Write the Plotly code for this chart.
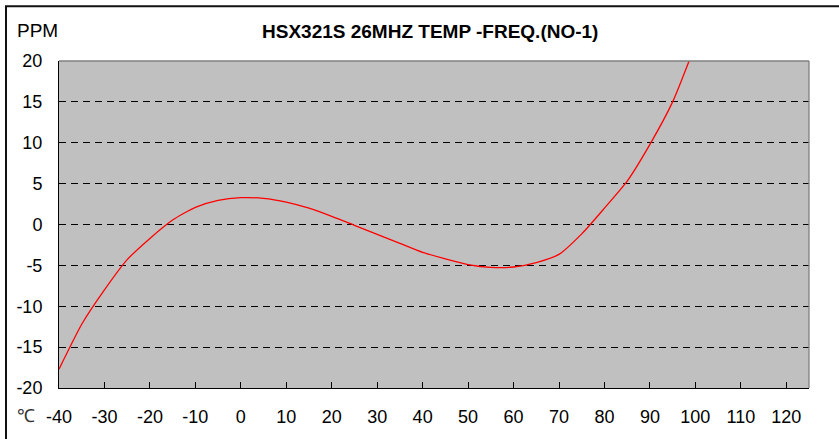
import plotly.graph_objects as go

temps = [-40, -35, -30, -25, -20, -15, -10, -5, 0, 5, 10, 15, 20, 25, 30, 35,
         40, 45, 50, 55, 60, 65, 70, 75, 80, 85, 90, 95, 100]
ppm = [-17.7, -12.2, -8.0, -4.3, -1.7, 0.55, 2.1, 2.95, 3.28, 3.2, 2.75, 2.0, 1.0,
       -0.1, -1.2, -2.3, -3.4, -4.2, -4.9, -5.25, -5.2, -4.65, -3.65, -1.15, 2.0,
       5.3, 9.8, 15.0, 22.0]
x_ticks = list(range(-40, 121, 10))
x_tick_labels = [str(v) for v in x_ticks]
y_ticks = list(range(-20, 21, 5))
y_tick_labels = [str(v) for v in y_ticks]
title_text = "HSX321S 26MHZ TEMP -FREQ.(NO-1)"
y_unit = "PPM"
x_unit = "℃"

W, H = 839, 439
L, R, T, B = 59, 30, 61, 49
pw, ph = W - L - R, H - T - B


def px(x):
    return (x - L) / pw


def py(y):
    return (H - B - y) / ph


fig = go.Figure()
fig.add_trace(go.Scatter(x=temps, y=ppm, mode="lines",
                         line=dict(color="#FF0000", width=1.3, shape="spline", smoothing=0.6),
                         hoverinfo="skip", cliponaxis=True))

font = "Liberation Sans, Arial, sans-serif"
fig.update_layout(
    width=W, height=H,
    margin=dict(l=L, r=R, t=T, b=B, pad=0),
    paper_bgcolor="white", plot_bgcolor="#C0C0C0",
    showlegend=False,
    font=dict(family=font, size=18, color="black"),
    xaxis=dict(range=[-40, 125], tickvals=x_ticks, ticktext=x_tick_labels,
               ticks="inside", ticklen=6,
               tickcolor="black", tickwidth=1, showline=True, linecolor="black",
               linewidth=1, showgrid=False, zeroline=False, ticklabelstandoff=12,
               tickfont=dict(size=18)),
    yaxis=dict(range=[-20, 20], tickvals=y_ticks, ticktext=y_tick_labels,
               ticks="inside", ticklen=6,
               tickcolor="black", tickwidth=1, showline=True, linecolor="black",
               linewidth=1, showgrid=True, gridcolor="black", gridwidth=1,
               griddash="7px,5px", zeroline=False, ticklabelstandoff=12,
               tickfont=dict(size=18)),
    shapes=[
        dict(type="line", xref="paper", yref="paper", x0=0, x1=1, y0=1, y1=1,
             line=dict(color="#808080", width=1.3), layer="above"),
        dict(type="line", xref="paper", yref="paper", x0=1, x1=1, y0=0, y1=1,
             line=dict(color="#808080", width=1.3), layer="above"),
        dict(type="rect", xref="paper", yref="paper",
             x0=px(6), x1=px(W + 10), y0=py(6), y1=py(H + 10),
             line=dict(color="#111111", width=2), layer="above"),
    ],
    annotations=[
        dict(text="<b>" + title_text + "</b>", xref="paper", yref="paper",
             x=px(430), y=py(31), showarrow=False, xanchor="center", yanchor="middle",
             font=dict(size=19, family=font)),
        dict(text=y_unit, xref="paper", yref="paper", x=px(37.5), y=py(30),
             showarrow=False, xanchor="center", yanchor="middle",
             font=dict(size=19, family=font)),
        dict(text=x_unit, xref="paper", yref="paper", x=px(26), y=py(418),
             showarrow=False, xanchor="center", yanchor="middle",
             font=dict(size=18, family=font, color="#333333")),
    ],
)

fig.write_html("out.html")
